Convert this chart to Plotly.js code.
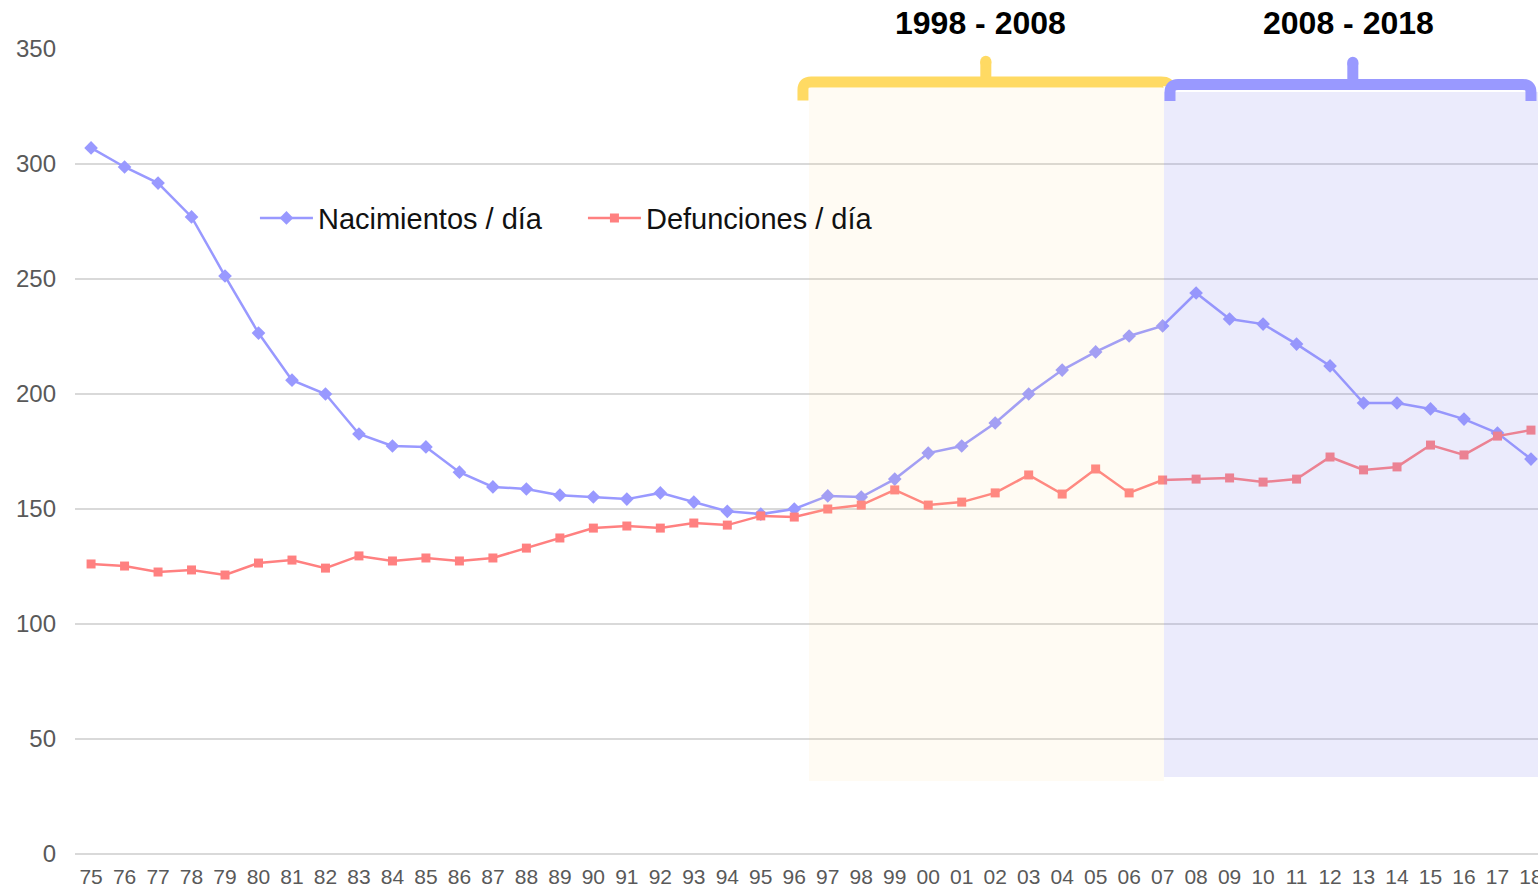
<!DOCTYPE html>
<html>
<head>
<meta charset="utf-8">
<script src="https://cdn.plot.ly/plotly-3.0.1.min.js"></script>
<style>html,body{margin:0;padding:0;background:#fff;}#chart{width:1538px;height:889px;}</style>
</head>
<body>
<div id="chart"></div>
<script>
const years = ['75','76','77','78','79','80','81','82','83','84','85','86','87','88','89','90','91','92','93','94','95','96','97','98','99','00','01','02','03','04','05','06','07','08','09','10','11','12','13','14','15','16','17','18'];
const nacimientos = [307, 298.7, 291.7, 277, 251.3, 226.5, 206, 200, 182.6, 177.4, 177, 166, 159.6, 158.7, 156, 155.2, 154.3, 157, 153, 149, 147.8, 150, 155.7, 155.2, 163, 174.3, 177.4, 187.4, 200, 210.4, 218.3, 225.2, 229.6, 243.9, 232.6, 230.4, 221.7, 212.2, 196.1, 196.1, 193.5, 189.1, 183, 171.7];
const defunciones = [126.1, 125.2, 122.6, 123.5, 121.3, 126.5, 127.8, 124.3, 129.6, 127.4, 128.7, 127.4, 128.7, 133, 137.4, 141.7, 142.6, 141.7, 143.9, 143, 147, 146.5, 150, 151.7, 158.3, 151.7, 153, 157, 164.8, 156.5, 167.4, 157, 162.6, 163, 163.5, 161.7, 163, 172.6, 167, 168.3, 177.8, 173.5, 181.7, 184.3];
const seriesNames = ['Nacimientos / día', 'Defunciones / día'];
const periodLabels = ['1998 - 2008', '2008 - 2018'];

const FONT = 'Liberation Sans, Arial, sans-serif';
const BLUE = '#9999FF', RED = '#FF8080', YEL = '#FFDA63';

const traces = [
  {x: years, y: nacimientos, name: seriesNames[0], type: 'scatter', mode: 'lines+markers',
   line: {color: BLUE, width: 2.5}, marker: {symbol: 'diamond', size: 10.5, color: BLUE}},
  {x: years, y: defunciones, name: seriesNames[1], type: 'scatter', mode: 'lines+markers',
   line: {color: RED, width: 2.5}, marker: {symbol: 'square', size: 9, color: RED}}
];

const shapes = [
  {type: 'rect', xref: 'x', yref: 'y', x0: 21.44, x1: 32.04, y0: 31.7, y1: 333, layer: 'above',
   fillcolor: 'rgba(255,220,140,0.1)', line: {width: 0}},
  {type: 'rect', xref: 'x', yref: 'y', x0: 32.04, x1: 43.5, y0: 33.5, y1: 331.3, layer: 'above',
   fillcolor: 'rgba(140,140,240,0.174)', line: {width: 0}},
  {type: 'path', xref: 'x', yref: 'y', layer: 'above', fillcolor: 'rgba(0,0,0,0)',
   line: {color: YEL, width: 11},
   path: 'M21.26,327.6 V332.3 Q21.26,335.7 21.5,335.7 H31.95 Q32.18,335.7 32.18,333.8 M26.72,335.7 V344.3'},
  {type: 'path', xref: 'x', yref: 'y', layer: 'above', fillcolor: 'rgba(0,0,0,0)',
   line: {color: BLUE, width: 11},
   path: 'M32.22,327.4 V331.2 Q32.22,334.6 32.46,334.6 H42.76 Q43.0,334.6 43.0,331.2 V327.4 M37.68,334.6 V343.8'},
  {type: 'circle', xref: 'x', yref: 'y', layer: 'above', x0: 26.55, x1: 26.89, y0: 341.9, y1: 347.1,
   fillcolor: YEL, line: {width: 0}},
  {type: 'circle', xref: 'x', yref: 'y', layer: 'above', x0: 37.51, x1: 37.85, y0: 341.4, y1: 346.6,
   fillcolor: BLUE, line: {width: 0}}
];

const annotations = [
  {text: '<b>' + periodLabels[0] + '</b>', xref: 'x', yref: 'paper', x: 26.57, y: 1.0323,
   showarrow: false, xanchor: 'center', yanchor: 'middle', font: {family: FONT, size: 32, color: '#000'}},
  {text: '<b>' + periodLabels[1] + '</b>', xref: 'x', yref: 'paper', x: 37.56, y: 1.0323,
   showarrow: false, xanchor: 'center', yanchor: 'middle', font: {family: FONT, size: 32, color: '#000'}}
];

const layout = {
  width: 1538, height: 889,
  margin: {l: 75, r: 0, t: 49, b: 35, pad: 0},
  paper_bgcolor: '#fff', plot_bgcolor: '#fff',
  showlegend: true,
  legend: {orientation: 'h', x: 0.123, y: 0.79, xanchor: 'left', yanchor: 'middle',
           bgcolor: 'rgba(0,0,0,0)', borderwidth: 0, itemwidth: 53,
           entrywidth: 260, entrywidthmode: 'pixels',
           font: {family: FONT, size: 29, color: '#111'}},
  xaxis: {type: 'category', range: [-0.48, 43.21], showgrid: false, zeroline: false, showline: false,
          ticks: '', tickangle: 0, ticklabelstandoff: 8,
          tickfont: {family: FONT, size: 21, color: '#595959'}, fixedrange: true},
  yaxis: {range: [0, 350], dtick: 50, tick0: 0, showgrid: true, gridcolor: '#d9d9d9', gridwidth: 1.5,
          zeroline: true, zerolinecolor: '#d9d9d9', zerolinewidth: 1.5, showline: false, ticks: '',
          ticklabelstandoff: 18, tickfont: {family: FONT, size: 24, color: '#595959'}, fixedrange: true},
  shapes: shapes,
  annotations: annotations
};

Plotly.newPlot('chart', traces, layout, {displayModeBar: false, staticPlot: true});
</script>
</body>
</html>
